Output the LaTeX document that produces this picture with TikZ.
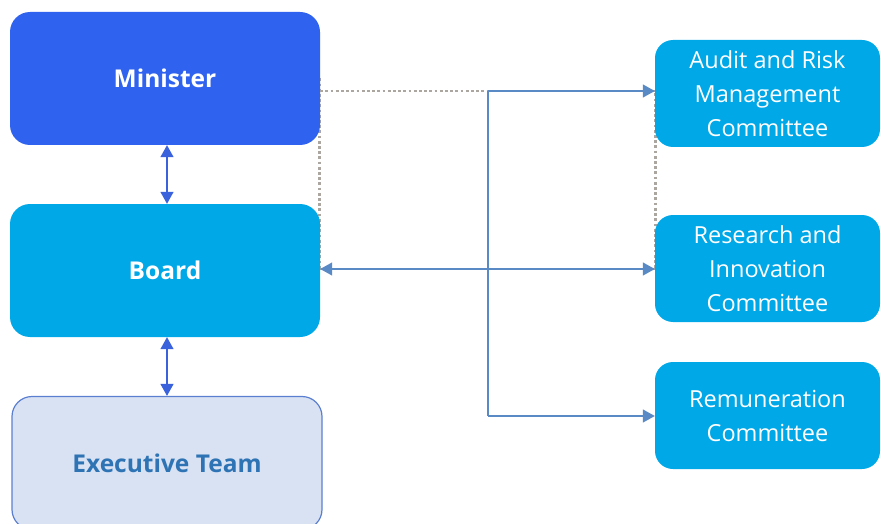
\documentclass[tikz,border=0pt]{standalone}
\usepackage{fontspec}
\setmainfont{Open Sans}
\usetikzlibrary{arrows.meta,backgrounds}
\definecolor{minblue}{HTML}{2F62EE}
\definecolor{cyanbox}{HTML}{00A8E8}
\definecolor{exfill}{HTML}{D9E2F3}
\definecolor{exdraw}{HTML}{5B7FD0}
\definecolor{extext}{HTML}{2E74B5}
\definecolor{vblue}{HTML}{3A62DC}
\definecolor{steel}{HTML}{5A8AC6}
\definecolor{dotgrey}{HTML}{ABA69F}
\tikzset{
  bigbox/.style={rectangle, rounded corners=20pt, minimum width=310pt, minimum height=133pt, inner sep=0pt,
    font=\fontsize{24.5}{30}\selectfont\bfseries, text=white},
  combox/.style={rectangle, rounded corners=18pt, minimum width=225pt, minimum height=107pt, inner sep=0pt,
    fill=cyanbox, text=white, align=center, font=\fontsize{23.5}{34}\selectfont},
  vlink/.style={draw=vblue, line width=1.3pt, {Triangle[length=12pt,width=13pt]}-{Triangle[length=12pt,width=13pt]}},
  slink/.style={draw=steel, line width=1.3pt},
  sarrow/.style={slink, -{Triangle[length=12pt,width=13pt]}},
  dotlink/.style={draw=dotgrey, line width=2.8pt, dash pattern=on 2.8pt off 2.4pt}
}
\begin{document}
\begin{tikzpicture}[x=1pt,y=-1pt]
\useasboundingbox (0,0) rectangle (881,524);
\node[bigbox, fill=minblue] (min) at (165,78.5) {Minister};
\node[bigbox, fill=cyanbox] (brd) at (165,270.5) {Board};
\node[bigbox, fill=exfill, draw=exdraw, line width=1.2pt, text=extext] (exe) at (167,463) {Executive Team};
\node[combox] (aud) at (767.5,93.5) {Audit and Risk\\Management\\Committee};
\node[combox] (res) at (767.5,268.5) {Research and\\Innovation\\Committee};
\node[combox] (rem) at (767.5,415.5) {Remuneration\\Committee};
\coordinate (jt) at (488,91);
\coordinate (jm) at (488,269);
\coordinate (jb) at (488,416);
\begin{scope}[on background layer]
  \draw[dotlink] ([xshift=-1pt]min.east) -- ([xshift=-1pt]brd.east);
  \draw[dotlink] ([xshift=1pt]aud.west) -- ([xshift=1pt]res.west);
\end{scope}
\draw[dotlink] (min.east |- jt) -- (aud.west |- jt);
\draw[dotlink] (brd.east |- jm) -- (res.west |- jm);
\draw[vlink] ([xshift=2pt]min.south) -- ([xshift=2pt]brd.north);
\draw[vlink] (exe.north |- brd.south) -- (exe.north);
\draw[slink] (jt) -- (jb);
\draw[sarrow] (jm) -- (brd.east |- jm);
\draw[sarrow] (jt) -- (aud.west |- jt);
\draw[sarrow] (jm) -- (res.west |- jm);
\draw[sarrow] (jb) -- (rem.west |- jb);
\end{tikzpicture}
\end{document}
